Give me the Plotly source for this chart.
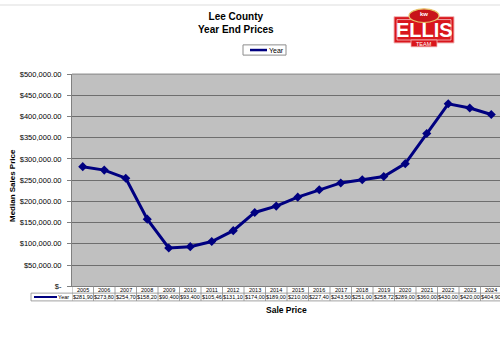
import plotly.graph_objects as go

years = ["2005", "2006", "2007", "2008", "2009", "2010", "2011", "2012", "2013", "2014",
         "2015", "2016", "2017", "2018", "2019", "2020", "2021", "2022", "2023", "2024"]
prices = [281900, 273800, 254700, 158200, 90400, 93400, 105460, 131100, 174000, 189000,
          210000, 227400, 243500, 251000, 258720, 289000, 360000, 430000, 420000, 404900]
table_labels = ["$281,90", "$273,80", "$254,70", "$158,20", "$90,400", "$93,400", "$105,46",
                "$131,10", "$174,00", "$189,00", "$210,00", "$227,40", "$243,50", "$251,00",
                "$258,72", "$289,00", "$360,00", "$430,00", "$420,00", "$404,90"]
y_tickvals = [0, 50000, 100000, 150000, 200000, 250000, 300000, 350000, 400000, 450000, 500000]
y_ticktext = ["$-", "$50,000.00", "$100,000.00", "$150,000.00", "$200,000.00", "$250,000.00",
              "$300,000.00", "$350,000.00", "$400,000.00", "$450,000.00", "$500,000.00"]

W, H = 500, 339
FONT = "Liberation Sans, Arial, sans-serif"


def px(x):
    return x / W


def py(y):
    return 1 - y / H


xs = list(range(len(years)))

fig = go.Figure()
fig.add_trace(go.Scatter(
    x=xs, y=prices, mode="lines+markers", name="Year",
    line=dict(color="#000080", width=3),
    marker=dict(symbol="diamond", size=7, color="#000080"),
    showlegend=False, cliponaxis=False,
))

PLOT_TOP, PLOT_BOT, PLOT_L = 72, 290, 72
fig.update_layout(
    width=W, height=H,
    margin=dict(l=0, r=0, t=0, b=0),
    paper_bgcolor="white",
    plot_bgcolor="#C0C0C0",
    font=dict(family=FONT, color="black"),
    xaxis=dict(
        domain=[px(PLOT_L), 1],
        range=[-0.5, 19.5 - 2 / 21.5],
        showticklabels=False, showgrid=False, zeroline=False,
        showline=True, linecolor="#808080", linewidth=1, ticks="",
    ),
    yaxis=dict(
        domain=[py(PLOT_BOT), py(PLOT_TOP)],
        range=[0, 500000],
        tickvals=y_tickvals, ticktext=y_ticktext,
        tickfont=dict(size=7.5, family=FONT, color="black"),
        ticks="outside", ticklen=4, tickcolor="#808080",
        ticklabelstandoff=4,
        showgrid=True, gridcolor="#6e6e6e", gridwidth=1,
        zeroline=False, showline=True, linecolor="#808080", linewidth=1,
        mirror=False,
    ),
)

shapes = []
annotations = []

# top light strip
shapes.append(dict(type="rect", xref="paper", yref="paper", x0=0, x1=1, y0=py(2), y1=1,
                   fillcolor="#eeeeee", line=dict(width=0), layer="below"))
# top border of plot area
shapes.append(dict(type="line", xref="paper", yref="paper", x0=px(PLOT_L), x1=1,
                   y0=py(PLOT_TOP), y1=py(PLOT_TOP), line=dict(color="#808080", width=1)))

# Title
annotations.append(dict(text="<b>Lee County</b><br><b>Year End Prices</b>", x=px(236), y=py(5),
                        xref="paper", yref="paper", xanchor="center", yanchor="top",
                        showarrow=False, font=dict(size=10, family=FONT), align="center"))

# Legend box
shapes.append(dict(type="rect", xref="paper", yref="paper", x0=px(243), x1=px(286),
                   y0=py(52.5), y1=py(42), line=dict(color="#8c8c8c", width=1),
                   fillcolor="white"))
shapes.append(dict(type="line", xref="paper", yref="paper", x0=px(250), x1=px(267),
                   y0=py(47.3), y1=py(47.3), line=dict(color="#000080", width=2.5)))
annotations.append(dict(text="Year", x=px(266.5), y=py(47.3), xref="paper", yref="paper",
                        xanchor="left", yanchor="middle", showarrow=False,
                        font=dict(size=7, family=FONT)))

# Axis titles
annotations.append(dict(text="<b>Median Sales Price</b>", x=px(12), y=py(187), xref="paper",
                        yref="paper", textangle=-90, showarrow=False,
                        font=dict(size=8, family=FONT), xanchor="center", yanchor="middle"))
annotations.append(dict(text="<b>Sale Price</b>", x=px(286), y=py(314), xref="paper",
                        yref="paper", showarrow=False, font=dict(size=8.5, family=FONT),
                        xanchor="center", yanchor="middle"))

# Data table
ROW1_T, ROW1_B, ROW2_B = PLOT_BOT, 297, 305
border = dict(color="#8c8c8c", width=0.8)
shapes.append(dict(type="line", xref="paper", yref="paper", x0=px(PLOT_L), x1=1,
                   y0=py(ROW1_B), y1=py(ROW1_B), line=border))
shapes.append(dict(type="line", xref="paper", yref="paper", x0=px(31), x1=px(PLOT_L),
                   y0=py(ROW1_B), y1=py(ROW1_B), line=border))
shapes.append(dict(type="line", xref="paper", yref="paper", x0=px(31), x1=1,
                   y0=py(ROW2_B), y1=py(ROW2_B), line=border))
shapes.append(dict(type="line", xref="paper", yref="paper", x0=px(31), x1=px(31),
                   y0=py(ROW2_B), y1=py(ROW1_B), line=border))
for i in range(len(years) + 1):
    shapes.append(dict(type="line", xref="x", yref="paper", x0=i - 0.5, x1=i - 0.5,
                       y0=py(ROW2_B), y1=py(ROW1_T), line=border))
for i, (yr, lab) in enumerate(zip(years, table_labels)):
    annotations.append(dict(text=yr, x=i, y=py((ROW1_T + ROW1_B) / 2 + 0.3), xref="x",
                            yref="paper", showarrow=False, font=dict(size=5.5, family=FONT),
                            xanchor="center", yanchor="middle"))
    annotations.append(dict(text=lab, x=i, y=py((ROW1_B + ROW2_B) / 2 + 0.3), xref="x",
                            yref="paper", showarrow=False, font=dict(size=5.5, family=FONT),
                            xanchor="center", yanchor="middle"))
# table legend key
shapes.append(dict(type="line", xref="paper", yref="paper", x0=px(34), x1=px(57),
                   y0=py(301), y1=py(301), line=dict(color="#000080", width=2)))
annotations.append(dict(text="Year", x=px(71), y=py(301.2), xref="paper", yref="paper",
                        showarrow=False, font=dict(size=5.5, family=FONT),
                        xanchor="right", yanchor="middle"))

# Logo
shapes.append(dict(type="rect", xref="paper", yref="paper", x0=px(394), x1=px(454),
                   y0=py(40), y1=py(13), fillcolor="#d9161c",
                   line=dict(color="#f2b8b8", width=1)))
shapes.append(dict(type="rect", xref="paper", yref="paper", x0=px(397), x1=px(451),
                   y0=py(37), y1=py(16), fillcolor="rgba(0,0,0,0)",
                   line=dict(color="#ffffff", width=0.6)))
shapes.append(dict(type="rect", xref="paper", yref="paper", x0=px(411), x1=px(437),
                   y0=py(44), y1=py(37), fillcolor="#d9161c",
                   line=dict(color="#f2b8b8", width=0.8)))
shapes.append(dict(type="circle", xref="paper", yref="paper", x0=px(409), x1=px(439),
                   y0=py(19), y1=py(5), fillcolor="#c8141a",
                   line=dict(color="#e8c66a", width=1.2)))
annotations.append(dict(text="<b>kw</b>", x=px(424), y=py(10.5), xref="paper", yref="paper",
                        showarrow=False, font=dict(size=6, color="white", family=FONT),
                        xanchor="center", yanchor="middle"))
annotations.append(dict(text="<b>ELLIS</b>", x=px(424), y=py(27), xref="paper", yref="paper",
                        showarrow=False, height=18,
                        font=dict(size=20, color="white",
                                  family="Liberation Sans Narrow, Arial Narrow, sans-serif"),
                        xanchor="center", yanchor="middle"))
annotations.append(dict(text="TEAM", x=px(424), y=py(40.8), xref="paper", yref="paper",
                        showarrow=False, font=dict(size=5.5, color="white", family=FONT),
                        xanchor="center", yanchor="middle"))

fig.update_layout(shapes=shapes, annotations=annotations)
fig.write_html(
    "out.html",
    config={"displayModeBar": False},
    post_script="document.body.style.margin='0';document.body.style.padding='0';"
                "document.body.style.overflow='hidden';",
)
